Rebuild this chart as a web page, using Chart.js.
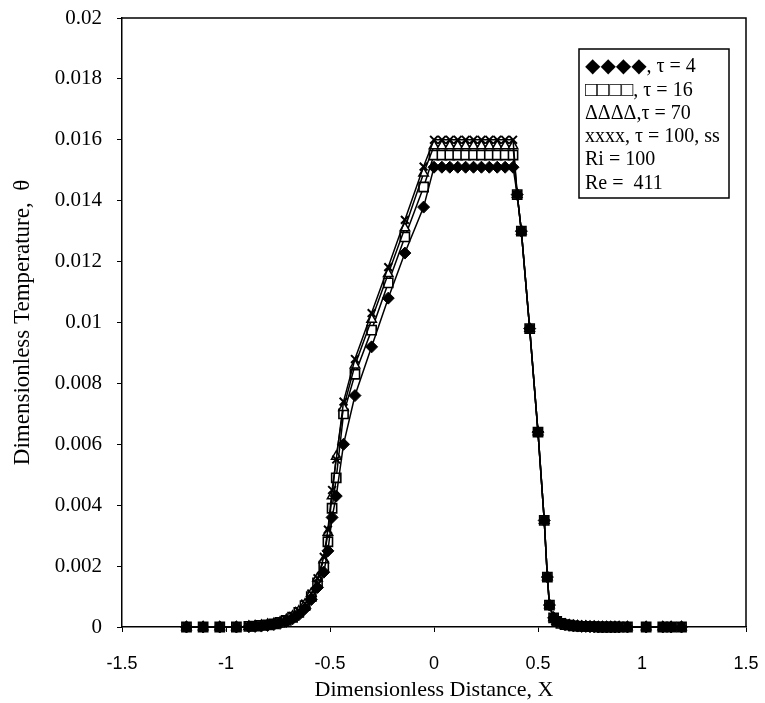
<!DOCTYPE html>
<html>
<head>
<meta charset="utf-8">
<script src="https://cdn.jsdelivr.net/npm/chart.js@4.4.1/dist/chart.umd.min.js"></script>
<style>
  html, body { margin: 0; padding: 0; background: #fff; }
</style>
</head>
<body>
<canvas id="myChart" width="765" height="703"></canvas>
<script>
// x positions of the computed nodes (same grid for all four times)
let xNodes = [
  -1.19, -1.11, -1.03, -0.95, -0.89, -0.86, -0.83, -0.80, -0.77, -0.74,
  -0.71, -0.68, -0.65, -0.62, -0.59, -0.56, -0.53, -0.51, -0.49, -0.47,
  -0.435, -0.38, -0.30, -0.22, -0.14, -0.05,
  0, 0.038, 0.076, 0.114, 0.152, 0.19, 0.228, 0.266, 0.304, 0.342, 0.38,
  0.40, 0.42, 0.46, 0.50, 0.53, 0.545, 0.555, 0.575, 0.59, 0.61, 0.63,
  0.65, 0.67, 0.69, 0.71, 0.73, 0.75, 0.77, 0.79, 0.81, 0.83, 0.85, 0.87,
  0.89, 0.93, 1.02, 1.10, 1.14, 1.19
];

// right-hand drop, shared by every series
let dropSide = [
  0.0142, 0.0130, 0.0098, 0.0064, 0.0035, 0.00164, 0.00072, 0.0003, 0.00018, 0.00012, 0.00008,
  0.00006, 0.00004, 0.00003, 0.00002, 0.00002, 0.00001, 0.00001, 0, 0, 0, 0, 0,
  0, 0, 0, 0, 0, 0
];

let theta4 = [
  0, 0, 0, 0, 0.00001, 0.00002, 0.00003, 0.00005, 0.00008, 0.00012,
  0.00018, 0.00027, 0.0004, 0.0006, 0.0009, 0.0013, 0.0018, 0.0025, 0.0036, 0.0043,
  0.0060, 0.0076, 0.0092, 0.0108, 0.01228, 0.01379,
  0.0151, 0.0151, 0.0151, 0.0151, 0.0151, 0.0151, 0.0151, 0.0151, 0.0151, 0.0151, 0.0151
].concat(dropSide);

let theta16 = [
  0, 0, 0, 0, 0.00002, 0.00003, 0.00005, 0.00007, 0.0001, 0.00015,
  0.00022, 0.00032, 0.00048, 0.0007, 0.001, 0.00145, 0.002, 0.0028, 0.0039, 0.0049,
  0.0070, 0.0083, 0.00975, 0.0113, 0.01281, 0.01445,
  0.0155, 0.0155, 0.0155, 0.0155, 0.0155, 0.0155, 0.0155, 0.0155, 0.0155, 0.0155, 0.0155
].concat(dropSide);

let theta70 = [
  0, 0, 0, 0, 0.00002, 0.00003, 0.00005, 0.00008, 0.00011, 0.00016,
  0.00024, 0.00035, 0.00052, 0.00075, 0.0011, 0.0016, 0.0022, 0.0031, 0.0043, 0.0056,
  0.0072, 0.0086, 0.0101, 0.0116, 0.0131, 0.0149,
  0.0158, 0.0158, 0.0158, 0.0158, 0.0158, 0.0158, 0.0158, 0.0158, 0.0158, 0.0158, 0.0158
].concat(dropSide);

let theta100 = [
  0, 0, 0, 0, 0.00002, 0.00003, 0.00005, 0.00008, 0.00011, 0.00016,
  0.00024, 0.00036, 0.00053, 0.00077, 0.0011, 0.0016, 0.0023, 0.0032, 0.0045, 0.0055,
  0.0074, 0.0088, 0.01031, 0.01182, 0.01337, 0.01512,
  0.0160, 0.0160, 0.0160, 0.0160, 0.0160, 0.0160, 0.0160, 0.0160, 0.0160, 0.0160, 0.0160
].concat(dropSide);

let legendLines = ['◆◆◆◆, τ = 4', '□□□□, τ = 16', 'ΔΔΔΔ,τ = 70', 'xxxx, τ = 100, ss', 'Ri = 100', 'Re =  411'];

function toPoints(ys) {
  return xNodes.map(function (x, i) { return { x: x, y: ys[i] }; });
}

function cleanNum(v) {
  return String(Number(v.toFixed(4)));
}

// frame on top and right plus the text box
let extras = {
  id: 'extras',
  afterDraw: function (chart) {
    let ctx = chart.ctx;
    let a = chart.chartArea;
    ctx.save();
    ctx.strokeStyle = '#000';
    ctx.lineWidth = 1.5;
    ctx.beginPath();
    ctx.moveTo(a.left, a.top);
    ctx.lineTo(a.right, a.top);
    ctx.lineTo(a.right, a.bottom);
    ctx.stroke();

    ctx.fillStyle = '#fff';
    ctx.fillRect(579, 49, 150, 149);
    ctx.lineWidth = 1.5;
    ctx.strokeRect(579, 49, 150, 149);
    ctx.fillStyle = '#000';
    ctx.font = '20px "Liberation Serif", "DejaVu Serif", serif';
    ctx.textBaseline = 'middle';
    ctx.textAlign = 'left';
    legendLines.forEach(function (t, i) {
      ctx.fillText(t, 585, 67 + i * 23.3);
    });
    ctx.restore();
  }
};

let ctx = document.getElementById('myChart').getContext('2d');
let chart = new Chart(ctx, {
  type: 'scatter',
  data: {
    datasets: [
      {
        label: 'tau = 4',
        data: toPoints(theta4),
        showLine: true,
        clip: false,
        borderColor: '#000',
        borderWidth: 1.5,
        pointStyle: 'rectRot',
        pointRadius: 6,
        pointBackgroundColor: '#000',
        pointBorderColor: '#000',
        pointBorderWidth: 1,
        order: 1
      },
      {
        label: 'tau = 16',
        data: toPoints(theta16),
        showLine: true,
        clip: false,
        borderColor: '#000',
        borderWidth: 1.5,
        pointStyle: 'rect',
        pointRadius: 6.5,
        pointBackgroundColor: '#fff',
        pointBorderColor: '#000',
        pointBorderWidth: 1.6,
        order: 4
      },
      {
        label: 'tau = 70',
        data: toPoints(theta70),
        showLine: true,
        clip: false,
        borderColor: '#000',
        borderWidth: 1.5,
        pointStyle: 'triangle',
        pointRadius: 5.5,
        pointBackgroundColor: '#fff',
        pointBorderColor: '#000',
        pointBorderWidth: 1.5,
        order: 3
      },
      {
        label: 'tau = 100, ss',
        data: toPoints(theta100),
        showLine: true,
        clip: false,
        borderColor: '#000',
        borderWidth: 1.5,
        pointStyle: 'crossRot',
        pointRadius: 5.5,
        pointBackgroundColor: '#000',
        pointBorderColor: '#000',
        pointBorderWidth: 2,
        order: 2
      }
    ]
  },
  options: {
    responsive: false,
    animation: false,
    devicePixelRatio: 1,
    layout: { autoPadding: false, padding: { top: 18, right: 19, left: 0, bottom: 0 } },
    plugins: {
      legend: { display: false },
      tooltip: { enabled: false }
    },
    scales: {
      x: {
        type: 'linear',
        min: -1.5,
        max: 1.5,
        afterFit: function (s) {
          s.height = 76;
          s.paddingLeft = 0;
          s.paddingRight = 0;
        },
        ticks: {
          stepSize: 0.5,
          color: '#000',
          padding: 21,
          maxRotation: 0,
          font: { family: '"Liberation Sans", Arial, sans-serif', size: 18 },
          callback: function (v) { return cleanNum(v); }
        },
        grid: { display: true, drawOnChartArea: false, drawTicks: true, tickLength: 5, color: '#000', lineWidth: 1 },
        border: { display: true, color: '#000', width: 1.5 },
        title: {
          display: true,
          text: 'Dimensionless Distance, X',
          color: '#000',
          font: { family: '"Liberation Serif", "Times New Roman", serif', size: 22 },
          padding: { top: 0, bottom: 0 }
        }
      },
      y: {
        type: 'linear',
        min: 0,
        max: 0.02,
        afterFit: function (s) {
          s.width = 122;
          s.paddingTop = 0;
          s.paddingBottom = 0;
        },
        ticks: {
          stepSize: 0.002,
          color: '#000',
          padding: 15,
          font: { family: '"Liberation Serif", "Times New Roman", serif', size: 21 },
          callback: function (v) { return cleanNum(v); }
        },
        grid: { display: true, drawOnChartArea: false, drawTicks: true, tickLength: 5, color: '#000', lineWidth: 1 },
        border: { display: true, color: '#000', width: 1.5 },
        title: {
          display: true,
          text: 'Dimensionless Temperature,  θ',
          color: '#000',
          font: { family: '"Liberation Serif", "Times New Roman", serif', size: 23 },
          padding: { top: 9, bottom: 0 }
        }
      }
    }
  },
  plugins: [extras]
});
</script>
</body>
</html>
